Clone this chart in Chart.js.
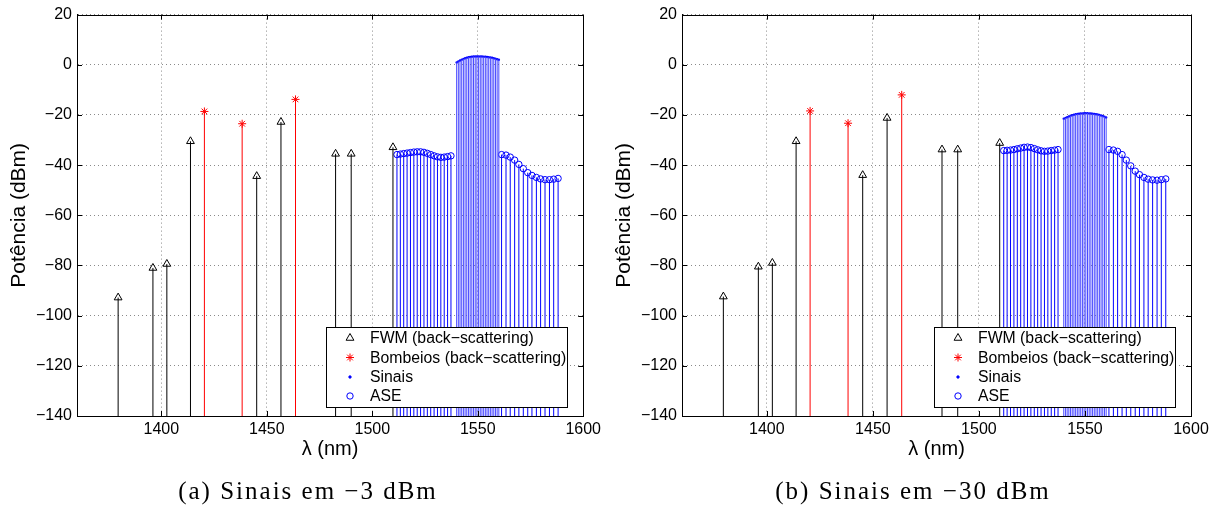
<!DOCTYPE html>
<html><head><meta charset="utf-8">
<script src="https://cdn.jsdelivr.net/npm/chart.js@4.4.1/dist/chart.umd.min.js"></script>
<style>
html,body{margin:0;padding:0;background:#fff;width:1221px;height:509px;overflow:hidden}
#a{position:absolute;left:0;top:0}
#b{position:absolute;left:605px;top:0}
</style></head><body>
<canvas id="a" width="605" height="509"></canvas>
<canvas id="b" width="616" height="509"></canvas>
<script>
// ---- data ----
const xTicks = [1400, 1450, 1500, 1550, 1600];
const yTicks = [-140, -120, -100, -80, -60, -40, -20, 0, 20];

const fwmWl = [1379.5, 1396.0, 1402.6, 1413.8, 1445.2, 1456.7, 1482.6, 1490.0, 1509.8];
const fwmA  = [-92.8, -81.0, -79.4, -30.5, -44.4, -22.8, -35.5, -35.5, -32.9];
const fwmB  = [-92.4, -80.5, -79.0, -30.5, -44.0, -21.2, -33.8, -33.8, -31.2];

const pumpWl = [1420.4, 1438.3, 1463.6];
const pumpA  = [-18.6, -23.5, -13.8];
const pumpB  = [-18.4, -23.3, -12.0];

const sigWl = [1540.0, 1540.8, 1541.6, 1542.4, 1543.2, 1544.0, 1544.8, 1545.6, 1546.4, 1547.2,
               1548.0, 1548.8, 1549.6, 1550.4, 1551.2, 1552.0, 1552.8, 1553.6, 1554.4, 1555.2,
               1556.0, 1556.8, 1557.6, 1558.4, 1559.2, 1560.0];
const sigA = [0.9, 1.3, 1.7, 2.0, 2.3, 2.6, 2.8, 3.0, 3.1, 3.2, 3.3, 3.3, 3.3,
              3.3, 3.3, 3.3, 3.2, 3.2, 3.1, 3.0, 2.9, 2.8, 2.6, 2.4, 2.2, 2.0];
const sigB = [-21.5, -21.2, -20.9, -20.6, -20.3, -20.1, -19.9, -19.7, -19.6, -19.5, -19.4, -19.4, -19.3,
              -19.3, -19.3, -19.4, -19.4, -19.5, -19.6, -19.7, -19.8, -20.0, -20.2, -20.4, -20.7, -21.0];

const aseWl = [1511.7, 1513.3, 1514.9, 1516.5, 1518.1, 1519.7, 1521.3, 1522.9, 1524.5, 1526.1,
               1527.7, 1529.3, 1530.9, 1532.5, 1534.1, 1535.7, 1537.3,
               1561.3, 1563.4, 1565.4, 1567.5, 1569.5, 1571.6, 1573.7, 1575.7, 1577.8, 1579.8,
               1581.9, 1584.0, 1586.0, 1588.1];
const aseA = [-35.8, -35.6, -35.4, -35.2, -35.0, -34.8, -34.7, -34.7, -34.9, -35.3,
              -35.8, -36.3, -36.7, -36.9, -36.8, -36.6, -36.3,
              -35.8, -36.0, -36.8, -38.0, -39.7, -41.4, -43.0, -44.1, -44.9, -45.5,
              -45.8, -45.8, -45.6, -45.3];
const aseB = [-34.2, -34.1, -34.0, -33.8, -33.5, -33.2, -32.9, -32.8, -33.0, -33.4,
              -33.9, -34.3, -34.5, -34.4, -34.2, -34.0, -33.8,
              -33.8, -34.0, -34.5, -35.8, -38.0, -40.3, -42.4, -43.8, -44.9, -45.6,
              -45.9, -46.0, -45.8, -45.5];

const legendLabels = ['FWM (back\u2212scattering)', 'Bombeios (back\u2212scattering)', 'Sinais', 'ASE'];
const captions = ['(a) Sinais em \u22123 dBm', '(b) Sinais em \u221230 dBm'];
const yTitle = 'Pot\u00eancia (dBm)';
const xTitle = '\u03bb (nm)';

// ---- helpers ----
const BASE = -140;
function stems(wl, vals) {
  const d = [];
  wl.forEach((x, i) => { d.push({x: x, y: BASE}, {x: x, y: vals[i]}, {x: x, y: null}); });
  return d;
}
function pts(wl, vals) { return wl.map((x, i) => ({x: x, y: vals[i]})); }

const SANS = '"Liberation Sans", Arial, Helvetica, sans-serif';
const markerStyles = [
  {pointStyle: 'triangle', radius: 4.5, border: '#000', bw: 1},
  {pointStyle: 'star', radius: 4, border: '#ff0000', bw: 1},
  {pointStyle: 'circle', radius: 1.2, border: '#0000ff', bw: 1, fill: '#0000ff'},
  {pointStyle: 'circle', radius: 3.2, border: '#0000ff', bw: 1}
];

const decorPlugin = {
  id: 'decor',
  afterDraw(chart, args, opts) {
    const ctx = chart.ctx;
    const ca = chart.chartArea;
    const xs = chart.scales.x, ys = chart.scales.y;
    const al = v => Math.round(v) + 0.5;
    ctx.save();
    // box
    ctx.strokeStyle = '#000'; ctx.lineWidth = 1; ctx.setLineDash([]);
    ctx.strokeRect(al(ca.left), al(ca.top), Math.round(ca.right) - Math.round(ca.left), Math.round(ca.bottom) - Math.round(ca.top));
    // inward ticks
    ctx.beginPath();
    xTicks.forEach(v => {
      const px = al(xs.getPixelForValue(v));
      ctx.moveTo(px, ca.bottom); ctx.lineTo(px, ca.bottom - 5);
      ctx.moveTo(px, ca.top); ctx.lineTo(px, ca.top + 5);
    });
    yTicks.forEach(v => {
      const py = al(ys.getPixelForValue(v));
      ctx.moveTo(ca.left, py); ctx.lineTo(ca.left + 5, py);
      ctx.moveTo(ca.right, py); ctx.lineTo(ca.right - 5, py);
    });
    ctx.stroke();

    // legend
    const bw = 241, bh = 80;
    const bx = Math.round(ca.right) - 16 - bw, by = Math.round(ca.bottom) - 9 - bh;
    ctx.fillStyle = '#fff';
    ctx.fillRect(bx, by, bw, bh);
    ctx.strokeStyle = '#000';
    ctx.strokeRect(bx + 0.5, by + 0.5, bw, bh);
    const rows = [11, 30.5, 50, 69];
    ctx.font = '15.8px ' + SANS;
    ctx.textBaseline = 'middle';
    ctx.textAlign = 'left';
    legendLabels.forEach((lab, i) => {
      const m = markerStyles[i];
      const y = by + rows[i];
      ctx.strokeStyle = m.border;
      ctx.fillStyle = m.fill || 'rgba(0,0,0,0)';
      ctx.lineWidth = m.bw;
      Chart.helpers.drawPoint(ctx, {pointStyle: m.pointStyle, radius: m.radius, borderWidth: m.bw, rotation: 0}, bx + 24, y);
      ctx.fillStyle = '#000';
      ctx.fillText(lab, bx + 44, y + 1);
    });

    // titles
    ctx.fillStyle = '#000';
    ctx.font = '20px ' + SANS;
    ctx.textAlign = 'center';
    ctx.textBaseline = 'middle';
    ctx.fillText(xTitle, (ca.left + ca.right) / 2, 449);
    ctx.save();
    ctx.translate(19, (ca.top + ca.bottom) / 2);
    ctx.rotate(-Math.PI / 2);
    ctx.font = '21px ' + SANS;
    ctx.fillText(yTitle, 0, 0);
    ctx.restore();
    // caption
    ctx.font = '25px "Liberation Serif", "Times New Roman", serif';
    try { ctx.letterSpacing = '2px'; } catch (e) {}
    ctx.fillText(opts.caption, 308, 492);
    ctx.restore();
  }
};

function makeChart(id, fwm, pump, sig, ase, caption, rightPad) {
  const datasets = [
    {data: stems(sigWl, sig), showLine: true, borderColor: '#4a4aff', borderWidth: 1, pointRadius: 0, spanGaps: false},
    {data: stems(aseWl, ase), showLine: true, borderColor: '#0000ff', borderWidth: 1, pointRadius: 0, spanGaps: false},
    {data: stems(fwmWl, fwm), showLine: true, borderColor: '#000000', borderWidth: 1, pointRadius: 0, spanGaps: false},
    {data: stems(pumpWl, pump), showLine: true, borderColor: '#ff0000', borderWidth: 1, pointRadius: 0, spanGaps: false},
    {data: pts(sigWl, sig), showLine: false, pointStyle: 'circle', pointRadius: 1.2, pointBorderWidth: 0, pointBackgroundColor: '#0000ff', pointBorderColor: '#0000ff'},
    {data: pts(aseWl, ase), showLine: false, pointStyle: 'circle', pointRadius: 3.2, pointBorderWidth: 1, pointBackgroundColor: 'rgba(0,0,0,0)', pointBorderColor: '#0000ff'},
    {data: pts(fwmWl, fwm), showLine: false, pointStyle: 'triangle', pointRadius: 4.5, pointBorderWidth: 1, pointBackgroundColor: 'rgba(0,0,0,0)', pointBorderColor: '#000000'},
    {data: pts(pumpWl, pump), showLine: false, pointStyle: 'star', pointRadius: 4, pointBorderWidth: 1, pointBackgroundColor: '#ff0000', pointBorderColor: '#ff0000'}
  ];
  return new Chart(document.getElementById(id), {
    type: 'scatter',
    data: {datasets: datasets},
    plugins: [decorPlugin],
    options: {
      responsive: false, animation: false, devicePixelRatio: 1,
      layout: {padding: {left: 0, right: rightPad, top: 14, bottom: 509 - 416 - 30}},
      plugins: {legend: {display: false}, tooltip: {enabled: false}, decor: {caption: caption}},
      scales: {
        x: {
          type: 'linear', min: 1360, max: 1600,
          afterBuildTicks: s => { s.ticks = xTicks.map(v => ({value: v})); },
          afterFit: s => { s.height = 30; },
          ticks: {color: '#000', font: {family: SANS, size: 16}, padding: 4, maxRotation: 0, autoSkip: false, callback: v => String(v)},
          grid: {color: '#8a8a8a', lineWidth: 1, drawTicks: false},
          border: {display: true, color: '#000', width: 1, dash: [1, 3]}
        },
        y: {
          type: 'linear', min: -140, max: 20,
          afterBuildTicks: s => { s.ticks = yTicks.map(v => ({value: v})); },
          afterFit: s => { s.width = 77; },
          ticks: {color: '#000', font: {family: SANS, size: 16}, padding: 5, callback: v => String(v).replace('-', '\u2212')},
          grid: {color: '#8a8a8a', lineWidth: 1, drawTicks: false},
          border: {display: true, color: '#000', width: 1, dash: [1, 3]}
        }
      }
    }
  });
}

makeChart('a', fwmA, pumpA, sigA, aseA, captions[0], 605 - 586);
makeChart('b', fwmB, pumpB, sigB, aseB, captions[1], 616 - 586);
</script>
</body></html>
